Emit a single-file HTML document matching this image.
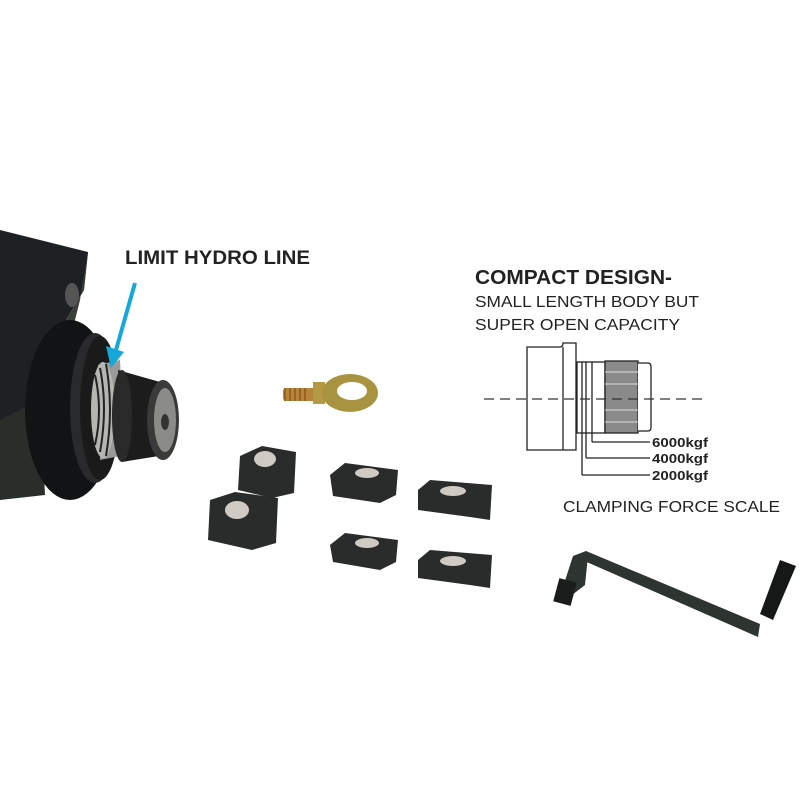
<!DOCTYPE html>
<html><head><meta charset="utf-8"><style>
html,body{margin:0;padding:0;background:#fff;}
svg{display:block;}
text{font-family:"Liberation Sans",sans-serif;}
</style></head><body>
<svg width="800" height="800" viewBox="0 0 800 800" xmlns="http://www.w3.org/2000/svg">
<rect width="800" height="800" fill="#fff"/>
<!-- left housing -->
<polygon points="0,230 88,252 84,290 60,330 40,420 30,470 0,480" fill="#1e2124"/>
<polygon points="60,330 84,290 88,252 80,300 70,340" fill="#3a4038"/>
<ellipse cx="72" cy="295" rx="7" ry="12" fill="#555"/>
<polygon points="0,420 40,400 45,495 0,500" fill="#2a2e2a"/>
<!-- big disc -->
<ellipse cx="70" cy="410" rx="45" ry="90" fill="#121314"/>
<ellipse cx="95" cy="408" rx="25" ry="75" fill="#2a2a2c"/>
<ellipse cx="100" cy="408" rx="20" ry="72" fill="#1a1a1b"/>
<!-- silver ring -->
<path d="M98,365 L120,360 L125,455 L100,460 Z" fill="#9a9a98"/>
<ellipse cx="103" cy="410" rx="12" ry="48" fill="#b5b5b2"/>
<path d="M95,375 q8,35 0,70 M100,368 q8,40 0,84 M106,364 q8,45 0,92" stroke="#222" stroke-width="2" fill="none"/>
<!-- knurl -->
<path d="M118,370 L160,382 L165,455 L122,462 Z" fill="#1c1c1d"/>
<ellipse cx="122" cy="416" rx="10" ry="46" fill="#2a2a2b"/>
<ellipse cx="163" cy="420" rx="16" ry="40" fill="#3a3a3a"/>
<ellipse cx="165" cy="420" rx="11" ry="32" fill="#8b8b88"/>
<ellipse cx="165" cy="422" rx="4" ry="8" fill="#333"/>
<!-- arrow -->
<line x1="135" y1="283" x2="116" y2="350" stroke="#15a8d8" stroke-width="4"/>
<polygon points="106,346 124,352 111,368" fill="#15a8d8"/>
<text x="125" y="264" font-size="19" font-weight="bold" fill="#222" textLength="185" lengthAdjust="spacingAndGlyphs">LIMIT HYDRO LINE</text>
<!-- eye bolt -->
<rect x="283" y="388" width="35" height="13" rx="3" fill="#b8843a"/>
<path d="M285,388 v13 M290,388 v13 M295,388 v13 M300,388 v13 M305,388 v13" stroke="#8a5a20" stroke-width="1.5"/>
<rect x="313" y="382" width="12" height="22" fill="#b39a45"/>
<ellipse cx="350" cy="393" rx="28" ry="19" fill="#a89440"/>
<ellipse cx="352" cy="391" rx="15" ry="9" fill="#fff"/>
<!-- blocks -->
<g fill="#2a2b2b">
<path d="M240,456 L262,446 L296,452 L294,493 L272,498 L238,490 Z"/>
<path d="M210,500 L235,492 L278,498 L276,543 L252,550 L208,540 Z"/>
<path d="M330,475 L345,463 L398,470 L396,495 L380,503 L333,496 Z"/>
<path d="M418,490 L430,480 L492,485 L490,520 L470,517 L418,510 Z"/>
<path d="M330,545 L345,533 L398,540 L396,562 L380,570 L333,562 Z"/>
<path d="M418,560 L430,550 L492,555 L490,588 L470,585 L418,578 Z"/>
</g>
<g fill="#cfcac4">
<ellipse cx="265" cy="459" rx="11" ry="8"/>
<ellipse cx="237" cy="510" rx="12" ry="9"/>
<ellipse cx="367" cy="473" rx="12" ry="5"/>
<ellipse cx="453" cy="491" rx="13" ry="5"/>
<ellipse cx="367" cy="543" rx="12" ry="5"/>
<ellipse cx="453" cy="561" rx="13" ry="5"/>
</g>
<!-- compact design text -->
<text x="475" y="284" font-size="20" font-weight="bold" fill="#222" textLength="197" lengthAdjust="spacingAndGlyphs">COMPACT DESIGN-</text>
<text x="475" y="307" font-size="16" fill="#222" textLength="224" lengthAdjust="spacingAndGlyphs">SMALL LENGTH BODY BUT</text>
<text x="475" y="330" font-size="16" fill="#222" textLength="205" lengthAdjust="spacingAndGlyphs">SUPER OPEN CAPACITY</text>
<!-- diagram -->
<g stroke="#222" stroke-width="1.3" fill="#fff">
<path d="M527,347 H560 Q563,347 563,343 H576 V450 H563 Q563,450 560,450 H527 Z"/>
<line x1="563" y1="347" x2="563" y2="450"/>
<rect x="577" y="362" width="28" height="71"/>
<rect x="605" y="361" width="33" height="72" fill="#8a8a8a"/>
<path d="M638,363 H648 Q651,363 651,367 V427 Q651,431 648,431 H638"/>
</g>
<g stroke="#ddd" stroke-width="1">
<line x1="605" y1="372" x2="638" y2="372"/><line x1="605" y1="384" x2="638" y2="384"/>
<line x1="605" y1="410" x2="638" y2="410"/><line x1="605" y1="422" x2="638" y2="422"/>
</g>
<g stroke="#222" stroke-width="1.3" fill="none">
<line x1="582" y1="362" x2="582" y2="475"/>
<line x1="586" y1="362" x2="586" y2="458"/>
<line x1="592" y1="362" x2="592" y2="442"/>
<polyline points="582,475 650,475"/>
<polyline points="586,458 650,458"/>
<polyline points="592,442 650,442"/>
</g>
<line x1="484" y1="399" x2="702" y2="399" stroke="#333" stroke-width="1.2" stroke-dasharray="10,6"/>
<text x="652" y="447" font-size="13" font-weight="bold" fill="#222" textLength="56" lengthAdjust="spacingAndGlyphs">6000kgf</text>
<text x="652" y="463" font-size="13" font-weight="bold" fill="#222" textLength="56" lengthAdjust="spacingAndGlyphs">4000kgf</text>
<text x="652" y="480" font-size="13" font-weight="bold" fill="#222" textLength="56" lengthAdjust="spacingAndGlyphs">2000kgf</text>
<text x="563" y="512" font-size="16" fill="#222" textLength="217" lengthAdjust="spacingAndGlyphs">CLAMPING FORCE SCALE</text>
<!-- crank handle -->
<path d="M573,556 L586,551 L760,624 L758,637 Z" fill="#2e3530"/>
<path d="M573,556 L588,556 L585,585 L572,595 L562,590 Z" fill="#2e3530"/>
<rect x="556" y="580" width="18" height="24" transform="rotate(15 565 592)" fill="#1a1d1b"/>
<path d="M780,560 L796,566 L773,620 L760,614 Z" fill="#161818"/>
</svg>
</body></html>
